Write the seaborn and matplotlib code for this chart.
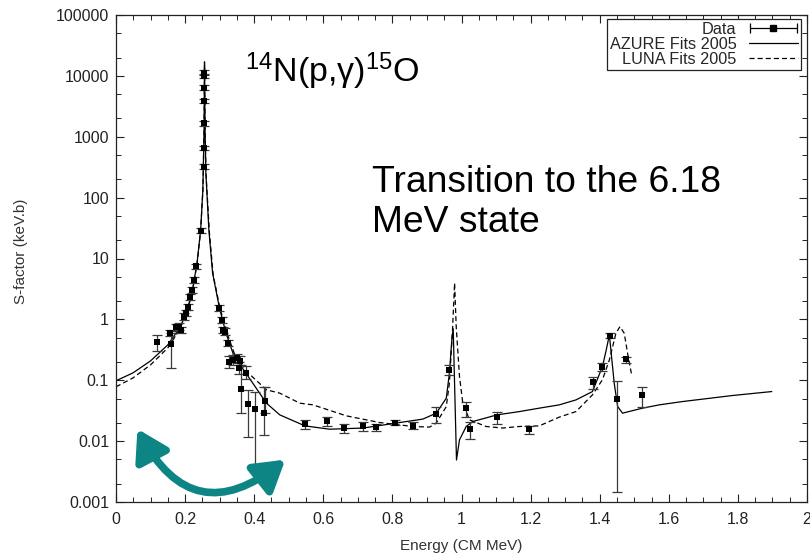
import numpy as np
import pandas as pd
import matplotlib
matplotlib.use("Agg")
import matplotlib.pyplot as plt
import seaborn as sns
from matplotlib.ticker import FixedLocator, FixedFormatter, MultipleLocator, LogLocator, NullFormatter
from matplotlib.legend_handler import HandlerErrorbar
from matplotlib.lines import Line2D

# ---------------- data ----------------
data_E = [0.118, 0.157, 0.159, 0.173, 0.183, 0.188, 0.197, 0.202, 0.207, 0.214,
          0.220, 0.226, 0.231, 0.246, 0.2543, 0.2545, 0.2552, 0.2553, 0.2553, 0.2553,
          0.2553, 0.2986, 0.306, 0.310, 0.316, 0.323, 0.327, 0.339, 0.349, 0.358,
          0.356, 0.376, 0.361, 0.382, 0.4026, 0.427, 0.431, 0.547, 0.612, 0.661,
          0.716, 0.752, 0.807, 0.860, 0.927, 0.965, 1.0116, 1.026, 1.103, 1.195,
          1.382, 1.4055, 1.430, 1.451, 1.475, 1.523]
data_S = [0.42, 0.59, 0.40, 0.74, 0.76, 0.67, 1.11, 1.26, 1.62, 2.37,
          3.05, 4.45, 7.4, 28.7, 323, 648, 1667, 3870, 6400, 9950,
          11300, 1.53, 0.98, 0.67, 0.63, 0.41, 0.20, 0.216, 0.23, 0.21,
          0.158, 0.134, 0.072, 0.0405, 0.0343, 0.0288, 0.0464, 0.0192, 0.0213, 0.0165,
          0.0176, 0.0170, 0.0202, 0.0180, 0.0281, 0.148, 0.0356, 0.0157, 0.0248, 0.0157,
          0.093, 0.168, 0.542, 0.0495, 0.222, 0.0582]
data_S_lo = [0.30, 0.53, 0.16, 0.65, 0.67, 0.59, 0.98, 1.12, 1.45, 2.12,
             2.75, 4.0, 6.7, 26, 295, 595, 1530, 3560, 5900, 9150,
             10400, 1.38, 0.88, 0.60, 0.56, 0.37, 0.16, 0.18, 0.19, 0.175,
             0.125, 0.105, 0.0288, 0.0119, 0.00424, 0.0127, 0.029, 0.0161, 0.0174, 0.0138,
             0.0149, 0.0149, 0.0183, 0.0161, 0.0198, 0.123, 0.0248, 0.0109, 0.0192, 0.0132,
             0.0714, 0.144, 0.491, 0.00146, 0.195, 0.037]
data_S_hi = [0.56, 0.66, 0.60, 0.84, 0.86, 0.76, 1.25, 1.42, 1.80, 2.64,
             3.40, 4.95, 8.2, 31.5, 355, 705, 1810, 4200, 6950, 10800,
             12300, 1.70, 1.09, 0.75, 0.71, 0.46, 0.25, 0.26, 0.27, 0.25,
             0.20, 0.17, 0.179, 0.0696, 0.0652, 0.077, 0.078, 0.0221, 0.0253, 0.0192,
             0.0207, 0.0190, 0.0224, 0.0207, 0.037, 0.179, 0.0447, 0.0205, 0.0306, 0.018,
             0.112, 0.191, 0.593, 0.0989, 0.245, 0.0769]

azure_E = [0, 0.049, 0.100, 0.150, 0.180, 0.200, 0.220, 0.235, 0.245, 0.2514,
           0.2549, 0.2562, 0.2578, 0.2601, 0.2688, 0.2795, 0.2986, 0.318, 0.342, 0.376,
           0.4355, 0.474, 0.547, 0.618, 0.715, 0.811, 0.888, 0.927, 0.956, 0.965,
           0.9725, 0.976, 0.9855, 0.9942, 1.0136, 1.0327, 1.103, 1.168, 1.225, 1.283,
           1.3315, 1.379, 1.408, 1.419, 1.428, 1.442, 1.452, 1.466, 1.524, 1.572,
           1.640, 1.784, 1.898]
azure_S = [0.098, 0.132, 0.208, 0.381, 0.673, 1.10, 2.72, 8.8, 29.5, 134,
           1290, 17000, 1290, 255, 29.5, 5.8, 1.62, 0.60, 0.245, 0.131,
           0.042, 0.027, 0.0178, 0.0157, 0.0164, 0.0198, 0.023, 0.0288, 0.0508, 0.131,
           0.50, 0.7, 0.0049, 0.0105, 0.0174, 0.021, 0.027, 0.0306, 0.0348, 0.0394,
           0.0476, 0.0652, 0.168, 0.316, 0.556, 0.0896, 0.037, 0.0288, 0.0348, 0.0394,
           0.0447, 0.0561, 0.0652]

luna_E = [0, 0.049, 0.100, 0.150, 0.180, 0.200, 0.220, 0.235, 0.245, 0.2514,
          0.2549, 0.2562, 0.2578, 0.2607, 0.2702, 0.2812, 0.3006, 0.321, 0.344, 0.376,
          0.4355, 0.474, 0.532, 0.570, 0.667, 0.763, 0.859, 0.9075, 0.927, 0.956,
          0.965, 0.974, 0.980, 0.9847, 0.9942, 1.0038, 1.023, 1.071, 1.119, 1.168,
          1.225, 1.283, 1.3315, 1.379, 1.408, 1.428, 1.447, 1.4587, 1.471, 1.4806,
          1.4934]
luna_S = [0.078, 0.109, 0.179, 0.340, 0.623, 1.06, 2.62, 8.5, 28.4, 129,
          1200, 15100, 1200, 236, 27.3, 5.4, 1.55, 0.60, 0.261, 0.143,
          0.0696, 0.0614, 0.042, 0.0394, 0.026, 0.0202, 0.0174, 0.017, 0.0198, 0.037,
          0.0896, 0.67, 3.97, 0.76, 0.115, 0.042, 0.0224, 0.0174, 0.0164, 0.0174,
          0.0178, 0.0248, 0.0306, 0.0575, 0.102, 0.216, 0.593, 0.76, 0.593, 0.279,
          0.115]

x_ticks = [0, 0.2, 0.4, 0.6, 0.8, 1.0, 1.2, 1.4, 1.6, 1.8, 2.0]
x_tick_labels = ["0", "0.2", "0.4", "0.6", "0.8", "1", "1.2", "1.4", "1.6", "1.8", "2"]
y_ticks = [0.001, 0.01, 0.1, 1, 10, 100, 1000, 10000, 100000]
y_tick_labels = ["0.001", "0.01", "0.1", "1", "10", "100", "1000", "10000", "100000"]

legend_labels = ["Data", "AZURE Fits 2005", "LUNA Fits 2005"]
title_text = r"$\mathregular{^{14}N(p{,}\gamma)^{15}O}$"
note_text = "Transition to the 6.18\nMeV state"
x_label = "Energy (CM MeV)"
y_label = "S-factor (keV.b)"

# ---------------- styling ----------------
sns.set_style("ticks")
plt.rcParams["font.family"] = ["Liberation Sans", "DejaVu Sans"]
plt.rcParams["mathtext.fontset"] = "custom"
plt.rcParams["mathtext.rm"] = "Liberation Sans"
plt.rcParams["mathtext.it"] = "Liberation Sans:italic"
plt.rcParams["mathtext.bf"] = "Liberation Sans:bold"

fig = plt.figure(figsize=(8.10, 5.53), dpi=100)
ax = fig.add_axes([116 / 810, 51 / 553, 691 / 810, 487 / 553])

curves = pd.concat([
    pd.DataFrame({"E": azure_E, "S": azure_S, "fit": legend_labels[1]}),
    pd.DataFrame({"E": luna_E, "S": luna_S, "fit": legend_labels[2]}),
])

sns.lineplot(data=curves[curves.fit == legend_labels[1]], x="E", y="S", ax=ax,
             estimator=None, sort=False, color="black", lw=0.9, legend=False)
sns.lineplot(data=curves[curves.fit == legend_labels[2]], x="E", y="S", ax=ax,
             estimator=None, sort=False, color="black", lw=0.9, legend=False,
             linestyle=(0, (4, 2.5)))

dS = np.array(data_S)
yerr = [dS - np.array(data_S_lo), np.array(data_S_hi) - dS]
ax.errorbar(data_E, data_S, yerr=yerr, fmt="none", ecolor="#3a3a3a",
            elinewidth=0.9, capsize=3.6, capthick=0.9, zorder=3)
sns.scatterplot(x=data_E, y=data_S, ax=ax, marker="s", s=18, color="black",
                edgecolor="black", linewidth=0, zorder=4, legend=False)

ax.set_yscale("log")
ax.set_xlim(0, 2)
ax.set_ylim(0.001, 100000)

ax.xaxis.set_major_locator(FixedLocator(x_ticks))
ax.xaxis.set_major_formatter(FixedFormatter(x_tick_labels))
ax.xaxis.set_minor_locator(MultipleLocator(0.05))
ax.yaxis.set_major_locator(FixedLocator(y_ticks))
ax.yaxis.set_major_formatter(FixedFormatter(y_tick_labels))
ax.yaxis.set_minor_locator(LogLocator(base=10, subs=(2, 5)))
ax.yaxis.set_minor_formatter(NullFormatter())

ax.tick_params(which="both", direction="in", top=True, right=True, color="#222222")
ax.tick_params(which="major", length=6, width=0.8, labelsize=11.5, labelcolor="#222222")
ax.tick_params(axis="x", which="major", pad=7)
ax.tick_params(axis="y", which="major", pad=5)
ax.tick_params(which="minor", length=3.5, width=0.7)
for s in ax.spines.values():
    s.set_visible(True)
    s.set_linewidth(0.9)
    s.set_color("#222222")

ax.set_xlabel(x_label, fontsize=11, color="#333333", labelpad=9)
ax.set_ylabel(y_label, fontsize=11, color="#333333")
ax.yaxis.set_label_coords(-0.128, 0.515)

# legend (gnuplot style: label then sample)
proxy = ax.errorbar([np.nan], [np.nan], xerr=[[1.0]], fmt="s", ms=4, color="black",
                    ecolor="black", elinewidth=0.9, capsize=3.5, capthick=0.9)
h_solid = Line2D([], [], color="black", lw=0.9)
h_dash = Line2D([], [], color="black", lw=0.9, linestyle=(0, (4, 2.5)))
leg = ax.legend([proxy, h_solid, h_dash], legend_labels, loc="upper right",
                bbox_to_anchor=(0.991, 0.992), borderaxespad=0, markerfirst=False,
                fontsize=11.7, handlelength=3.0, handletextpad=0.75, labelspacing=0.0,
                borderpad=0.2, fancybox=False, framealpha=1, edgecolor="#222222",
                handler_map={proxy: HandlerErrorbar(xerr_size=1.45)})
leg.get_frame().set_linewidth(0.9)

# annotations
ax.text(0.1867, 0.862, title_text, transform=ax.transAxes, fontsize=24.5,
        ha="left", va="baseline", color="black")
ax.text(0.370, 0.692, note_text, transform=ax.transAxes, fontsize=26.8,
        ha="left", va="top", linespacing=1.2, color="black")

ax.annotate("", xy=(0.245, 0.087), xytext=(0.031, 0.150),
            xycoords="axes fraction", textcoords="axes fraction",
            arrowprops=dict(arrowstyle="<|-|>,head_length=0.9,head_width=0.55",
                            connectionstyle="arc3,rad=0.6", lw=5.5,
                            color="#0d8585", shrinkA=0, shrinkB=0,
                            mutation_scale=20))

fig.savefig("out.png", dpi=100)
